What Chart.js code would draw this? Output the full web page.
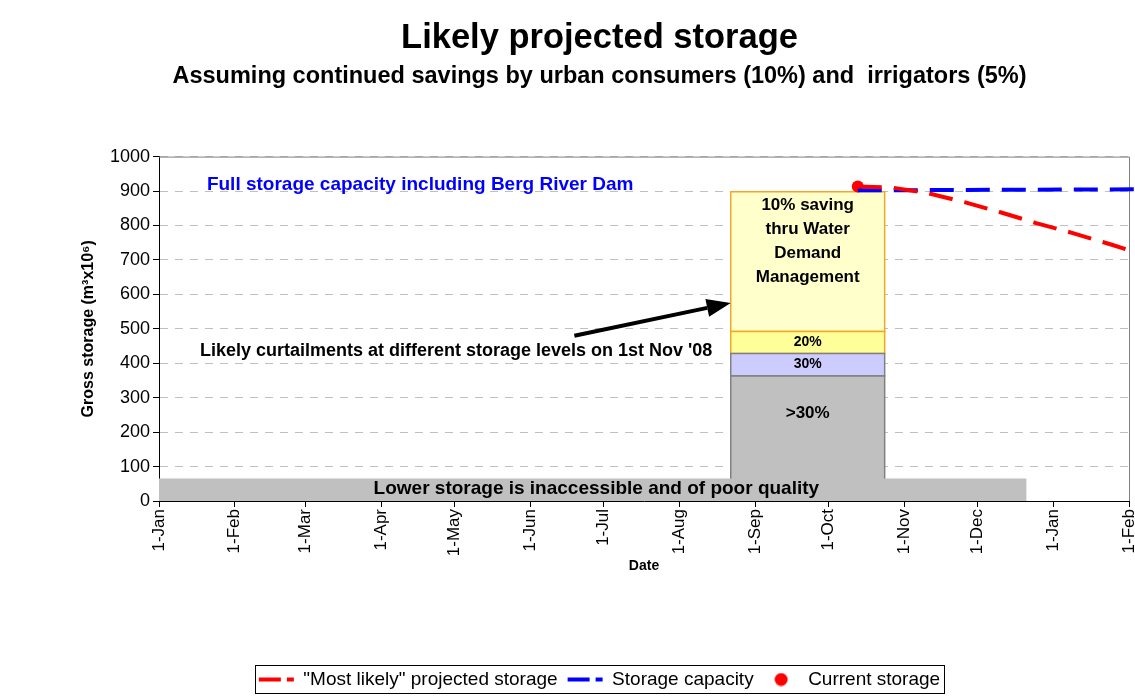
<!DOCTYPE html>
<html lang="en">
<head>
  <meta charset="UTF-8" />
  <title>Likely projected storage</title>
  <script src="https://cdn.jsdelivr.net/npm/chart.js"></script>
  <style>
    html, body {
      margin: 0;
      padding: 0;
      background-color: #fff;
    }
    .chart-container {
      width: 1135px;
      height: 696px;
      position: relative;
    }
  </style>
</head>
<body>
  <div class="chart-container">
    <canvas id="storageChart" width="1135" height="696"></canvas>
  </div>

  <script>
    // x values are days counted from 1 Jan 2008 (a leap year)
    const monthTickDays = [0, 31, 60, 91, 121, 152, 182, 213, 244, 274, 305, 335, 366, 397];
    const monthTickLabels = ['1-Jan', '1-Feb', '1-Mar', '1-Apr', '1-May', '1-Jun', '1-Jul',
                             '1-Aug', '1-Sep', '1-Oct', '1-Nov', '1-Dec', '1-Jan', '1-Feb'];

    const projectedDays = [286, 300, 314, 330, 344, 359, 374, 390, 400];
    const projectedStorage = [913, 910, 895, 867, 839, 807, 778, 744, 721];

    const capacityDays = [286, 400];
    const capacityStorage = [902, 905];

    const currentDay = [286];
    const currentStorage = [913];

    // curtailment levels, shown as one column
    const curtailDays = [234, 297];
    const curtailBottoms = [0, 363, 428, 492];
    const curtailTops = [363, 428, 492, 898];
    const curtailLabels = [['>30%'], ['30%'], ['20%'], ['10% saving', 'thru Water', 'Demand', 'Management']];

    // inaccessible storage at the bottom
    const deadStorageDays = [0, 355];
    const deadStorageLevel = [0, 65];

    const family = '"Liberation Sans", Arial, Helvetica, sans-serif';
    Chart.defaults.font.family = family;
    Chart.defaults.color = '#000';

    const bandFill = ['#c0c0c0', '#ccccff', '#ffff99', '#ffffcc'];
    const bandEdge = ['#808080', '#808080', '#f5a623', '#f5a623'];
    const bandLabelAt = [254, 398, 462, 860];
    const bandLabelSize = [17, 14, 14, 17];

    const box = (x0, x1, lo, hi) => [
      {x: x0, y: lo}, {x: x0, y: hi}, {x: x1, y: hi}, {x: x1, y: lo}, {x: x0, y: lo}
    ];

    // red dot for the legend (keeps it round next to the wide line symbols)
    const dot = document.createElement('canvas');
    dot.width = 14;
    dot.height = 14;
    const dctx = dot.getContext('2d');
    dctx.fillStyle = '#ff0000';
    dctx.beginPath();
    dctx.arc(7, 7, 6.5, 0, Math.PI * 2);
    dctx.fill();

    const datasets = [
      {
        label: '"Most likely" projected storage',
        data: projectedDays.map((d, i) => ({x: d, y: projectedStorage[i]})),
        borderColor: '#ff0000',
        borderWidth: 4,
        borderDash: [24, 12],
        pointRadius: 0,
        pointStyle: 'line',
        fill: false,
        clip: false
      },
      {
        label: 'Storage capacity',
        data: capacityDays.map((d, i) => ({x: d, y: capacityStorage[i]})),
        borderColor: '#0000ff',
        borderWidth: 4,
        borderDash: [24, 12],
        pointRadius: 0,
        pointStyle: 'line',
        fill: false,
        clip: false
      },
      {
        label: 'Current storage',
        data: currentDay.map((d, i) => ({x: d, y: currentStorage[i]})),
        showLine: false,
        pointRadius: 6,
        pointStyle: 'circle',
        backgroundColor: '#ff0000',
        borderColor: '#ff0000',
        borderWidth: 0,
        legendSymbol: dot
      },
      {
        label: '',
        data: box(deadStorageDays[0], deadStorageDays[1], deadStorageLevel[0], deadStorageLevel[1]),
        fill: 'shape',
        backgroundColor: '#c0c0c0',
        borderColor: 'rgba(0,0,0,0)',
        borderWidth: 0,
        pointRadius: 0
      }
    ];

    curtailBottoms.forEach((lo, i) => {
      datasets.push({
        label: '',
        data: box(curtailDays[0], curtailDays[1], lo, curtailTops[i]),
        fill: 'shape',
        backgroundColor: bandFill[i],
        borderColor: bandEdge[i],
        borderWidth: 1.5,
        pointRadius: 0
      });
    });

    // texts and the arrow, placed in data units
    const notesPlugin = {
      id: 'storageNotes',
      afterDatasetsDraw(chart) {
        const {ctx, scales: {x, y}} = chart;
        ctx.save();
        ctx.textBaseline = 'middle';

        ctx.textAlign = 'center';
        ctx.fillStyle = '#000';
        const cx = x.getPixelForValue((curtailDays[0] + curtailDays[1]) / 2);
        curtailLabels.forEach((lines, i) => {
          ctx.font = 'bold ' + bandLabelSize[i] + 'px ' + family;
          const y0 = y.getPixelForValue(bandLabelAt[i]);
          lines.forEach((t, k) => ctx.fillText(t, cx, y0 + k * 24));
        });

        ctx.fillStyle = '#0000ff';
        ctx.font = 'bold 19px ' + family;
        ctx.textAlign = 'left';
        ctx.fillText('Full storage capacity including Berg River Dam', x.getPixelForValue(19.6), y.getPixelForValue(918));

        ctx.fillStyle = '#000';
        ctx.textAlign = 'center';
        ctx.font = 'bold 18px ' + family;
        ctx.fillText("Likely curtailments at different storage levels on 1st Nov '08", x.getPixelForValue(121.6), y.getPixelForValue(436));

        ctx.font = 'bold 19px ' + family;
        ctx.fillText('Lower storage is inaccessible and of poor quality', x.getPixelForValue(179), y.getPixelForValue(36));

        // arrow to the column
        const ax0 = x.getPixelForValue(170), ay0 = y.getPixelForValue(480);
        const ax1 = x.getPixelForValue(234), ay1 = y.getPixelForValue(575);
        const ang = Math.atan2(ay1 - ay0, ax1 - ax0);
        const head = 24, half = 9;
        const bx = ax1 - head * Math.cos(ang), by = ay1 - head * Math.sin(ang);
        ctx.strokeStyle = '#000';
        ctx.lineWidth = 4;
        ctx.beginPath();
        ctx.moveTo(ax0, ay0);
        ctx.lineTo(bx, by);
        ctx.stroke();
        ctx.beginPath();
        ctx.moveTo(ax1, ay1);
        ctx.lineTo(bx - half * Math.sin(ang), by + half * Math.cos(ang));
        ctx.lineTo(bx + half * Math.sin(ang), by - half * Math.cos(ang));
        ctx.closePath();
        ctx.fill();
        ctx.restore();
      }
    };

    // grey top / right edge of the plot, box round the legend, title centring
    const framePlugin = {
      id: 'frame',
      afterLayout(chart) {
        chart.boxes.filter(b => b.position === 'top' || b === chart.legend).forEach(b => {
          b.left = 64;
          b.right = 1135;
        });
        chart.legend.top += 3;
        chart.legend.bottom += 3;
      },
      beforeDatasetsDraw(chart) {
        const {ctx, chartArea: a} = chart;
        ctx.save();
        ctx.strokeStyle = '#808080';
        ctx.lineWidth = 1;
        ctx.beginPath();
        ctx.moveTo(a.left, a.top + 0.5);
        ctx.lineTo(a.right + 0.5, a.top + 0.5);
        ctx.lineTo(a.right + 0.5, a.bottom);
        ctx.stroke();
        ctx.restore();
      },
      afterDraw(chart) {
        const lg = chart.legend;
        const p = lg.options.labels.padding;
        const w = lg.lineWidths[0];
        const x0 = (lg.left + p + lg.right - w) / 2;
        const y0 = lg.top + p;
        const ctx = chart.ctx;
        ctx.save();
        ctx.strokeStyle = '#000';
        ctx.lineWidth = 1;
        ctx.strokeRect(Math.round(x0 - 4) + 0.5, Math.round(y0 - 5) + 0.5, Math.round(w - p + 8), 28);
        ctx.restore();
      }
    };

    const ctx = document.getElementById('storageChart').getContext('2d');
    new Chart(ctx, {
      type: 'line',
      data: { datasets: datasets },
      plugins: [notesPlugin, framePlugin],
      options: {
        responsive: false,
        animation: false,
        layout: { padding: { left: 0, right: 5, top: 0, bottom: 0 } },
        plugins: {
          title: {
            display: true,
            text: 'Likely projected storage',
            color: '#000',
            font: { size: 34.5, weight: 'bold' },
            padding: { top: 18, bottom: 0 }
          },
          subtitle: {
            display: true,
            text: 'Assuming continued savings by urban consumers (10%) and  irrigators (5%)',
            color: '#000',
            font: { size: 23.5, weight: 'bold' },
            padding: { top: 3, bottom: 66 }
          },
          legend: {
            position: 'bottom',
            labels: {
              usePointStyle: true,
              pointStyleWidth: 35,
              boxHeight: 9,
              padding: 10,
              color: '#000',
              font: { size: 19 },
              generateLabels: chart => Chart.defaults.plugins.legend.labels.generateLabels(chart)
                .filter(item => chart.data.datasets[item.datasetIndex].label !== '')
                .map(item => {
                  const ds = chart.data.datasets[item.datasetIndex];
                  item.lineWidth = ds.borderWidth;
                  item.lineDash = ds.borderDash ? [22, 6] : [];
                  item.strokeStyle = ds.borderColor;
                  item.pointStyle = ds.legendSymbol || ds.pointStyle;
                  return item;
                })
            }
          },
          tooltip: { enabled: false }
        },
        scales: {
          x: {
            type: 'linear',
            min: 0,
            max: 397,
            afterBuildTicks: s => { s.ticks = monthTickDays.map(v => ({ value: v })); },
            ticks: {
              autoSkip: false,
              minRotation: 90,
              maxRotation: 90,
              padding: 2,
              color: '#000',
              font: { size: 17 },
              callback: (v, i) => monthTickLabels[i]
            },
            grid: { drawOnChartArea: false, drawTicks: true, tickLength: 6, tickColor: '#000' },
            border: { color: '#000', width: 1 },
            title: {
              display: true,
              text: 'Date',
              color: '#000',
              font: { size: 14, weight: 'bold' },
              padding: { top: 0, bottom: 82 }
            },
            afterFit: s => { s.height = 156; s.paddingLeft = 0; s.paddingRight = 0; }
          },
          y: {
            min: 0,
            max: 1000,
            ticks: { stepSize: 100, color: '#000', font: { size: 18 }, padding: 3, callback: v => String(v) },
            grid: {
              color: c => c.tick && c.tick.value === 0 ? 'rgba(0,0,0,0)' : '#c0c0c0',
              tickColor: '#000',
              tickLength: 6,
              tickBorderDash: []
            },
            border: { color: '#000', width: 1, dash: [8, 7] },
            title: {
              display: true,
              text: 'Gross storage (m³x10⁶)',
              color: '#000',
              font: { size: 16, weight: 'bold' },
              padding: { top: 79, bottom: 0 }
            },
            afterFit: s => { s.width = 159; }
          }
        }
      }
    });
  </script>
</body>
</html>
